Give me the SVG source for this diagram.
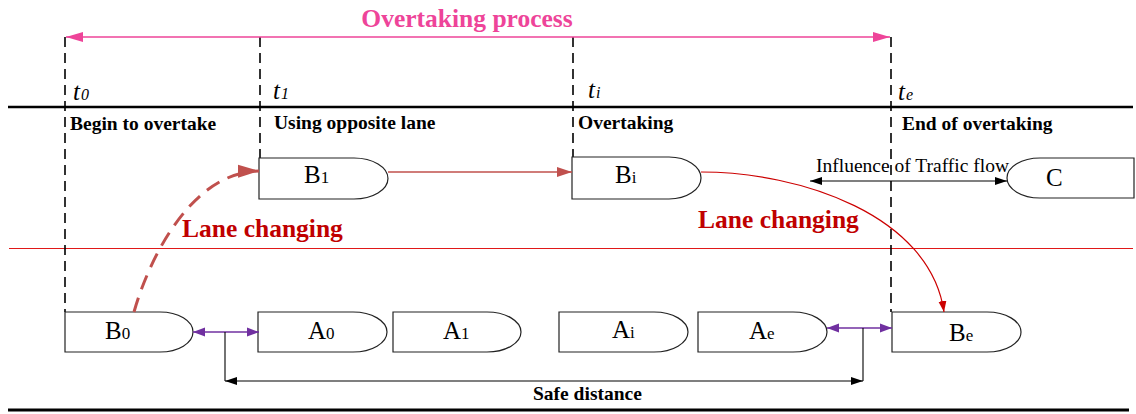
<svg xmlns="http://www.w3.org/2000/svg" width="1136" height="414" viewBox="0 0 1136 414">
  <style>
    text { font-family: "Liberation Serif", "Times New Roman", serif; }
    .phase { font-size: 19.5px; font-weight: bold; fill: #000; }
    .time { font-size: 25px; font-style: italic; fill: #000; }
    .time tspan { font-size: 16px; }
    .car { fill: #fff; stroke: #222; stroke-width: 1.2; }
    .car-lbl { font-size: 25px; fill: #000; }
    .car-lbl tspan { font-size: 17px; }
    .road { stroke: #000; fill: none; }
    .mark { stroke: #000; stroke-width: 1.6; stroke-dasharray: 10 6; fill: none; }
    .lane-chg { font-size: 25.5px; font-weight: bold; fill: #C00000; }
  </style>
  <defs>
    <marker id="pink-head" markerUnits="userSpaceOnUse" markerWidth="18" markerHeight="12" refX="17" refY="6" orient="auto-start-reverse">
      <path d="M0,1 L17,6 L0,11 Z" fill="#EE4499"/>
    </marker>
    <marker id="rust-big" markerUnits="userSpaceOnUse" markerWidth="22" markerHeight="14" refX="21" refY="7" orient="auto">
      <path d="M0,0.5 L21,7 L0,13.5 Z" fill="#C0504D"/>
    </marker>
    <marker id="rust-mid" markerUnits="userSpaceOnUse" markerWidth="16" markerHeight="12" refX="15" refY="6" orient="auto">
      <path d="M0,1 L15,6 L0,11 Z" fill="#C0504D"/>
    </marker>
    <marker id="red-thin" markerUnits="userSpaceOnUse" markerWidth="12" markerHeight="10" refX="11" refY="5" orient="auto">
      <path d="M0,1 L11,5 L0,9 Z" fill="#CC0000"/>
    </marker>
    <marker id="black-head" markerUnits="userSpaceOnUse" markerWidth="13" markerHeight="10" refX="12" refY="5" orient="auto-start-reverse">
      <path d="M0,1 L12,5 L0,9 Z" fill="#000"/>
    </marker>
    <marker id="purple-head" markerUnits="userSpaceOnUse" markerWidth="13" markerHeight="10" refX="12" refY="5" orient="auto-start-reverse">
      <path d="M0,0.5 L12,5 L0,9.5 Z" fill="#7030A0"/>
    </marker>
  </defs>

  <!-- road edges and centre line -->
  <g id="road">
    <line class="road" x1="8" y1="107" x2="1133" y2="107" stroke-width="2.6"/>
    <line class="road" x1="8" y1="410" x2="1129" y2="410" stroke-width="3"/>
    <line x1="9" y1="248.5" x2="1133" y2="248.5" stroke="#E01818" stroke-width="1"/>
  </g>

  <!-- time markers -->
  <g id="time-marks">
    <line class="mark" x1="65" y1="37" x2="65" y2="312"/>
    <line class="mark" x1="260" y1="37" x2="260" y2="158"/>
    <line class="mark" x1="573" y1="37" x2="573" y2="157"/>
    <line class="mark" x1="891" y1="37" x2="891" y2="312"/>
    <text class="time" x="73" y="100">t<tspan dx="1">0</tspan></text>
    <text class="time" x="273" y="99">t<tspan dx="1">1</tspan></text>
    <text class="time" x="588" y="98">t<tspan dx="1">i</tspan></text>
    <text class="time" x="898" y="100">t<tspan dx="1">e</tspan></text>
  </g>

  <!-- phase titles -->
  <g id="phases">
    <text x="467" y="27" text-anchor="middle" font-size="25.5" font-weight="bold" fill="#EE4499">Overtaking process</text>
    <text class="phase" x="70" y="130">Begin to overtake</text>
    <text class="phase" x="274" y="129">Using opposite lane</text>
    <text class="phase" x="578" y="129">Overtaking</text>
    <text class="phase" x="902" y="130">End of overtaking</text>
    <text class="lane-chg" x="182" y="237">Lane changing</text>
    <text class="lane-chg" x="698" y="228">Lane changing</text>
    <text x="816" y="172" font-size="19.5" fill="#000">Influence of Traffic flow</text>
    <text class="phase" x="533" y="400">Safe distance</text>
  </g>

  <!-- vehicles -->
  <g id="B0">
    <path class="car" d="M65,312 H160 A33,20 0 0 1 160,352 H65 Z" stroke-width="2"/>
    <text class="car-lbl" x="105" y="339">B<tspan>0</tspan></text>
  </g>
  <g id="A0">
    <path class="car" d="M258,312 H353 A34,20 0 0 1 353,352 H258 Z"/>
    <text class="car-lbl" x="308" y="339">A<tspan>0</tspan></text>
  </g>
  <g id="A1">
    <path class="car" d="M393,312 H487 A34,20 0 0 1 487,352 H393 Z"/>
    <text class="car-lbl" x="443" y="339">A<tspan>1</tspan></text>
  </g>
  <g id="Ai">
    <path class="car" d="M559,312 H654 A34,20 0 0 1 654,352 H559 Z"/>
    <text class="car-lbl" x="612" y="338">A<tspan>i</tspan></text>
  </g>
  <g id="Ae">
    <path class="car" d="M698,312 H793 A34,20 0 0 1 793,352 H698 Z"/>
    <text class="car-lbl" x="749" y="339">A<tspan>e</tspan></text>
  </g>
  <g id="Be">
    <path class="car" d="M892,312 H987 A34,20 0 0 1 987,352 H892 Z"/>
    <text class="car-lbl" x="949" y="341">B<tspan>e</tspan></text>
  </g>
  <g id="B1">
    <path class="car" d="M259,158 H354 A34,20.5 0 0 1 354,199 H259 Z"/>
    <text class="car-lbl" x="304" y="183">B<tspan>1</tspan></text>
  </g>
  <g id="Bi">
    <path class="car" d="M572,157 H669 A32,21 0 0 1 669,199 H572 Z"/>
    <text class="car-lbl" x="615" y="183">B<tspan>i</tspan></text>
  </g>
  <g id="C">
    <path class="car" d="M1134,158 H1040 A33,20 0 0 0 1040,198 H1134 Z"/>
    <text class="car-lbl" x="1046" y="186">C</text>
  </g>

  <!-- connectors -->
  <g id="connectors" fill="none">
    <line x1="66" y1="37" x2="890" y2="37" stroke="#EE4499" stroke-width="1.6" marker-start="url(#pink-head)" marker-end="url(#pink-head)"/>
    <path d="M134,312 C148,262 190,172 259,171" stroke="#C0504D" stroke-width="3" stroke-dasharray="15 9" marker-end="url(#rust-big)"/>
    <line x1="388" y1="172" x2="572" y2="172" stroke="#C0504D" stroke-width="1.6" marker-end="url(#rust-mid)"/>
    <path d="M701,172 C800,172 930,215 944,312" stroke="#CC0000" stroke-width="1.2" marker-end="url(#red-thin)"/>
    <line x1="810" y1="181" x2="1007" y2="181" stroke="#000" stroke-width="1.1" marker-start="url(#black-head)" marker-end="url(#black-head)"/>
    <line x1="193" y1="332" x2="259" y2="332" stroke="#7030A0" stroke-width="1.3" marker-start="url(#purple-head)" marker-end="url(#purple-head)"/>
    <line x1="827" y1="328" x2="892" y2="328" stroke="#7030A0" stroke-width="1.3" marker-start="url(#purple-head)" marker-end="url(#purple-head)"/>
    <line x1="225" y1="332" x2="225" y2="381" stroke="#000" stroke-width="1.1"/>
    <line x1="863" y1="328" x2="863" y2="381" stroke="#000" stroke-width="1.1"/>
    <line x1="225" y1="381" x2="863" y2="381" stroke="#000" stroke-width="1.1" marker-start="url(#black-head)" marker-end="url(#black-head)"/>
  </g>
</svg>
